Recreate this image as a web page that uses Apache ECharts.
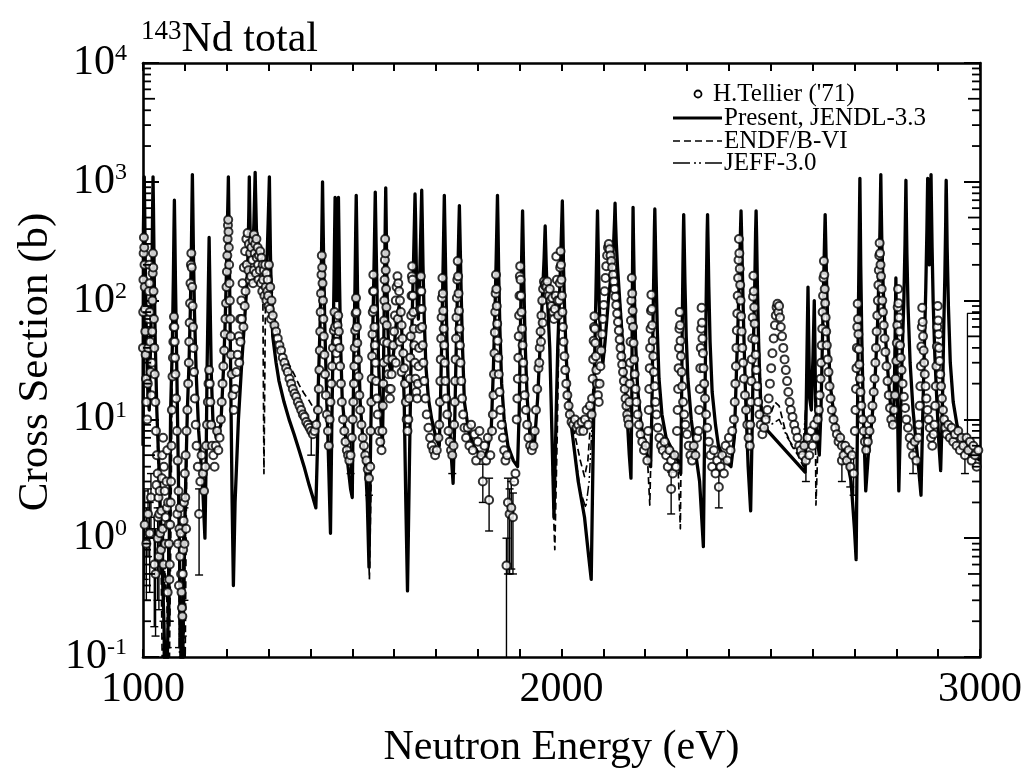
<!DOCTYPE html>
<html><head><meta charset="utf-8">
<script src="https://cdn.jsdelivr.net/npm/echarts/dist/echarts.min.js"></script>
<style>html,body{margin:0;padding:0;background:#fff}#c{width:1025px;height:777px}</style>
</head><body><div id="c"></div>
<script>
const FONT = "'Liberation Serif','Times New Roman',serif";
// axis tick labels
const xLabelValues = [1000, 2000, 3000];
const yExponents = ['-1', '0', '1', '2', '3', '4'];
const minorMantissas = [2, 3, 4, 5, 6, 7, 8, 9];
const minorDecades = [0.1, 1, 10, 100, 1000];

// JENDL-3.3 (Present) curve [E (eV), sigma (b)]
const jendl = [
[1000,6],[1001,400],[1002,700],[1003,1100],[1004,600],[1005.5,200],[1008,50],[1012,15],[1015,12],
[1016,20],[1019,60],[1021.5,200],[1023,600],[1024,1100],[1025,600],[1026.5,200],[1029,50],[1033,12],
[1038,4],[1042,1.5],[1050,0.2],[1055,0.03],[1060,0.2],[1064,2],
[1066,12],[1070,40],[1072.5,150],[1074,400],[1075,700],[1076,400],[1077.5,150],[1080,40],[1083,8],
[1086,1.5],[1089,0.3],[1093,0.03],[1098,0.5],[1102,3],
[1106,12],[1110,30],[1113,80],[1115.5,250],[1117,650],[1118,1150],[1119,650],[1120.5,250],[1123,80],[1127,25],[1133,8],
[1142,3],[1148,1.0],[1151,5],
[1153,25],[1155.5,90],[1157,200],[1158,340],[1159,200],[1160.5,90],[1163,25],[1167,10],
[1175,7],[1186,9],
[1192,25],[1196,60],[1199.5,180],[1202,500],[1203.3,800],[1204,1100],[1205,600],[1206.5,200],[1208.5,50],[1211,8],[1213,2],[1216,0.4],[1220,2],
[1228,10],[1236,30],[1244,80],[1248,130],[1251,250],[1253,600],[1254,1100],[1255,600],[1257,250],[1262,230],[1265,450],[1267,850],[1268,1200],[1269,800],[1271,400],[1275,260],[1282,220],[1290,170],[1296,200],[1299,450],[1301,800],[1302,1100],[1303,600],[1304.5,250],[1307,100],[1310,50],[1318,30],[1325,21],[1337,14],[1349,10],[1361,7.5],[1373,5.5],[1385,4],[1397,2.8],[1406,2.2],[1413,1.8],[1417,6],
[1419,20],[1423,60],[1426,180],[1428,550],[1429,1000],[1430,550],[1432,180],[1434.5,60],[1438,20],[1443,5],[1448,1.1],[1451,8],
[1454,40],[1456.5,150],[1458,400],[1459,740],[1460,400],[1461.5,150],[1463,100],[1464.5,160],[1466,400],[1467,740],[1468,400],[1469.5,150],[1472,45],[1476,15],[1483,8],[1490,4],[1496,2.6],[1500,2.2],[1502,10],
[1504,40],[1506.5,130],[1508.3,400],[1509.5,770],[1510.7,400],[1512.5,130],[1515,40],[1519,14],[1525,7],[1532,4],[1536,2],[1540,0.57],[1543,4],
[1547,30],[1550.5,100],[1553,300],[1554.2,550],[1555,820],[1555.8,550],[1557,300],[1559.5,100],[1563,30],[1567,12],[1572,6],[1574,15],
[1575.5,50],[1577.5,170],[1579,500],[1580,890],[1581,500],[1582.5,170],[1585,60],[1589,28],[1594,25],[1600,40],[1606,70],[1612,90],[1618,60],[1624,15],[1628,2],[1632,0.36],[1636,3],[1640,25],
[1643.5,80],[1646.5,220],[1648.8,500],[1650,790],[1651.2,500],[1653,200],[1655.5,90],[1658,70],
[1660,110],[1662.5,250],[1664.8,550],[1666,850],[1667.2,500],[1669,200],[1672,70],[1676,28],[1682,15],[1690,10],[1700,7],[1708,6],[1711,15],
[1714,50],[1716.5,150],[1718.7,420],[1720,770],[1721.3,420],[1723.5,150],[1726,50],[1730,16],[1735,6],[1741,2.9],[1745,10],
[1749,50],[1752,150],[1754.5,380],[1756,630],[1757.5,350],[1760,130],[1763,45],[1768,14],[1778,8],[1790,6],[1805,5],[1820,5],[1832,8],
[1837,25],[1841,80],[1844,230],[1845.8,470],[1847,770],[1848.2,450],[1850,160],[1853,55],[1857,20],[1863,10],[1872,6],[1885,4.5],[1895,4],[1899,12],
[1901.5,50],[1904,160],[1905.8,360],[1907,570],[1908.2,340],[1910,140],[1913,45],[1918,15],[1925,7],[1935,6],
[1943,15],[1950,50],[1955,120],[1958.5,230],[1960.2,350],[1961,425],[1961.8,330],[1963.5,200],[1966,110],[1972,40],[1977,8],[1982,1.5],[1987,10],
[1991,40],[1995,100],[1998.5,260],[2000.8,480],[2002,690],[2003.2,420],[2005,180],[2008,70],[2012,30],[2018,14],[2025,8],[2040,3],[2055,1.5],[2065,0.7],[2071,0.45],[2075,4],
[2079,30],[2082,100],[2084.5,300],[2086,570],[2087.5,300],[2090,100],[2094,40],[2099,30],
[2104,45],[2112,100],[2118,160],[2122,230],[2125,330],[2127,500],[2128,660],[2129,480],[2131,300],[2134,190],[2140,90],[2148,35],[2156,12],[2162,5],[2166,3.2],[2168,15],
[2169,80],[2170.2,300],[2171,610],[2172,330],[2174,120],[2177,45],[2182,18],[2190,9],[2200,6],[2208,4.5],[2213,4],[2216,12],
[2218.5,60],[2220.8,200],[2222,400],[2223,590],[2224,380],[2226,160],[2229,55],[2233,22],[2240,11],[2250,7],[2265,5.5],[2278,4.5],[2285,3.5],[2287,15],
[2288.5,60],[2290.2,200],[2291.2,370],[2292,530],[2293,340],[2295,140],[2298,50],[2302,22],[2310,10],[2318,6],[2330,3],[2339,0.85],[2342,8],
[2344.5,50],[2346.5,160],[2348,370],[2349,530],[2350,340],[2352,130],[2355,45],[2360,17],[2368,9],[2375,6],[2390,4.5],[2405,4],[2413,7],
[2418,25],[2422,70],[2425.5,200],[2427.8,400],[2429,570],[2430.2,380],[2432.5,160],[2435.5,55],[2440,15],[2446,4],[2452,1.7],[2456,10],
[2459,50],[2462,150],[2463.8,380],[2465,570],[2466.2,350],[2468,140],[2471,45],[2475,16],[2480,9],
[2582,3.6],
[2585,15],[2587.5,60],[2589,130],[2590.5,55],[2593,15],[2597,12],[2601,35],[2603,70],[2604,100],[2605,60],[2607,15],[2611,7],[2616,5],[2620,12],
[2623.5,45],[2626.5,150],[2628.8,350],[2630,530],[2631.2,340],[2633.5,140],[2637,50],[2642,20],[2652,10],[2665,7],[2680,5],[2692,3],[2700,1.2],[2704,0.66],[2707,8],
[2709,60],[2711,250],[2712.2,600],[2713,1070],[2713.8,550],[2715,200],[2717.5,50],[2721,12],[2727,2.5],[2733,5],[2742,10],
[2750,25],[2755,60],[2758.5,160],[2761,400],[2762.2,750],[2763,1150],[2763.8,700],[2765.5,300],[2769,120],[2774,50],[2781,22],[2790,9],[2795,15],
[2797.5,60],[2799,155],[2800.5,55],[2803,12],[2806,2.5],[2810,10],
[2814,35],[2818,100],[2820.8,300],[2822.2,650],[2823,1030],[2823.8,600],[2825.3,250],[2828,90],[2833,30],[2840,12],[2848,6],[2853,4],[2859,2.3],[2863,10],
[2867,40],[2870.5,130],[2873.2,400],[2874.2,700],[2875,1070],[2875.8,600],[2877.5,250],[2879,200],[2880.8,450],[2882.2,800],[2883,1150],[2883.8,700],[2885.5,280],[2888,100],[2892,35],[2897,14],[2902,6],[2906,3.7],[2910,12],
[2913,50],[2916,160],[2918,450],[2918.6,750],[2919.2,1030],[2920,700],[2921.5,280],[2924.5,90],[2929,30],[2936,14],[2945,9],[2955,7],[2970,5.5],[2985,5],[3000,4.5]
];

// ENDF/B-VI: pieces where it departs from JENDL-3.3
const endfSegments = [
[[1035,6],[1043,0.8],[1047,0.04],[1052,0.6],[1057,0.3],[1062,0.04],[1067,1.5],[1070,40]],
[[1083,8],[1087,0.5],[1091,0.04],[1096,0.1],[1100,0.04],[1104,3],[1106,12]],
[[1282,220],[1286,190],[1289,3.5],[1293,140],[1297,160]],
[[1304.5,250],[1307,150],[1312,80],[1325,47],[1337,36],[1349,29],[1361,24],[1373,19.5],[1385,16.5],[1397,14.4],[1410,12],[1418,13],[1421,40]],
[[1536,2],[1541,0.45],[1545,3]],
[[1972,40],[1977,8],[1980,2],[1984,0.8],[1990,8],[1995,100]],
[[2015,20],[2030,8],[2045,4.5],[2055,3.3],[2063,4.5],[2070,10],[2076,20],[2079,30]],
[[2205,5],[2211,1.9],[2216,12],[2218.5,60]],
[[2278,4.5],[2284,1.2],[2288.5,60]],
[[2471,45],[2478,12],[2495,10],[2510,14],[2520,13],[2535,8],[2550,6],[2565,5],[2578,4],[2585,15]],
[[2605,60],[2608,1.9],[2612,5],[2616,5]]
];

// JEFF-3.0: pieces where it departs from JENDL-3.3
const jeffSegments = [
[[1083,8],[1086,0.6],[1088,0.04],[1092,0.3],[1097,0.04],[1101,2],[1106,12]],
[[1304.5,250],[1307,140],[1312,70],[1325,40],[1337,30],[1349,24],[1361,19],[1373,15],[1385,12],[1397,10],[1410,9],[1418,11],[1421,40]],
[[2015,20],[2030,6],[2045,2.5],[2058,1.8],[2066,3],[2075,12],[2079,30]],
[[2471,45],[2480,11],[2500,9],[2520,10],[2540,7],[2560,5.5],[2575,4.5],[2585,15]]
];
const stepLine = [[2970,5.5],[2970,78],[3000,78]];

// H.Tellier ('71) measured points
const tellierA = [
[1000,40],[1000.5,80],[1001,150],[1001.5,250],[1002.2,340],[1003,280],[1003.6,200],[1004.2,130],[1004.8,85],[1005.5,55],[1006.3,35],[1007.2,22],[1008.2,14],
[1004,1.3],[1008,0.9],[1010,10],[1011.5,20],[1012,1.6],[1012.5,40],[1013.3,70],[1014,120],[1014.7,200],[1015.5,140],[1016,1.1],[1016.3,80],[1017,45],[1018,25],[1019,2.2],
[1020,16],[1021,30],[1021.8,55],[1022.5,100],[1023.2,170],[1023.8,250],[1024.5,190],[1025.2,120],[1026,70],[1027,40],[1027,0.6],[1028,24],[1029.5,14],
[1030,0.5],[1031,8],[1032,2.8],[1033,5],[1035,3.5],[1035,1.0],[1036,1.5],[1037,2.2],[1038,0.7],[1039,1.6],[1040,2.5],[1041,1.1],[1043,0.8],[1044,1.7],[1045,3.2],[1046,5],[1047,1.2],[1048,7],[1049,0.6],[1050,4],[1052,2.5],[1053,0.9],[1054,1.5],[1056,3],[1057,1.8],[1058,5.5],[1059,0.35],[1060,2],[1061,1.3],[1062,0.9],[1063,0.45],[1064,0.6],[1065,1.3],[1066,2],[1067,3],[1068,6],
[1069,12],[1070.5,23],[1071.5,33],[1072.5,45],[1073.3,60],[1074,73],[1075,60],[1075.8,45],[1076.6,33],[1077.5,24],[1079,15],[1081,8],[1082,1.6],[1083,4.5],[1084,0.9],[1085,2.5],[1086,0.4],[1087,1.2],[1088,1.8],[1089,0.7],[1090,1.1],[1091,0.5],[1092,0.35],[1093,0.26],[1094,0.22],[1095,0.5],[1096,0.8],[1097,1.4],[1098,2],[1099,0.9],[1100,3.5],[1101,2.2],[1102,5],[1103,1.2],[1104,8],[1106,12],[1108,20],
[1109.5,30],[1110.5,45],[1111.5,65],[1112.5,95],[1113.5,140],[1114.5,200],[1115.5,250],[1116.5,190],[1117.5,130],[1118.5,90],[1119.5,60],[1120.5,40],[1122,25],[1124,15],[1126,9],
[1128,6],[1131,4],[1134,1.6],[1137,3],[1140,5],[1143,3.5],[1146,2.5],
[1149,4],[1151,6],[1153,9],[1155,14],[1156.5,20],[1158,26],[1159.5,20],[1161,14],[1163,9],[1165,6],[1168,5],[1171,4],[1174,6],[1177,8],[1180,5.5],[1183,7],[1186,10],
[1188,14],[1190,20],[1192,28],[1194,38],[1195.5,52],[1197,70],[1198.5,95],[1199.5,130],[1200.5,175],[1201.5,240],[1202.3,330],[1203,430],[1203.6,480],[1204.3,380],[1205,280],[1205.8,200],[1206.6,140],[1207.5,100],[1208.5,70],[1209.5,50],[1210.5,35],[1212,24],[1214,16],
[1217,12],[1220,18],[1223,25],[1226,35],[1229,50],[1230,30],[1232,70],[1233,45],[1235,100],[1236,70],[1238,140],[1240,60],[1241,190],[1243,90],[1244,260],[1245,120],[1247,330],[1248,200],[1250,370],[1252,180],[1253,300],[1255,150],[1256,250],[1258,160],[1259,280],[1261,220],[1262,320],[1263,140],[1265,360],[1265,180],[1267,250],[1268,300],[1270,170],[1271,330],[1272,230],[1274,280],[1275,200],[1276,150],[1277,240],[1279,180],[1280,260],[1282,140],[1283,230],[1285,120],[1286,200],[1287,150],[1289,180],[1290,110],[1292,200],[1293,130],[1295,170],[1295,100],[1297,120],[1298,150],[1299,110],[1300,90],[1301,200],[1303,85],[1304,130],[1306,70],[1307,100],
[1310,75],[1314,62],[1318,55],[1322,48]
];
const tellierB = [
[1326,42],[1330,38],[1334,33],[1338,30],[1342,27],[1346,25],[1350,22],[1354,20],[1358,18],[1362,16.5],[1366,15.5],[1370,14],[1374,13],[1378,12],[1382,11],[1386,10.5],[1390,9.5],[1394,9],[1398,8.5],[1402,8],[1406,7.5],[1410,8],[1414,9],
[1418,12],[1420,18],[1421.5,26],[1422.5,38],[1423.5,55],[1424.5,80],[1425.5,115],[1426.5,165],[1427.3,240],[1428.2,190],[1429,140],[1430,100],[1431,70],[1432,50],[1433.5,35],[1435,24],[1437,16],[1439.5,11],[1442,8],[1444,6],
[1446,10],[1448,14],[1450,20],[1452,28],[1454,40],[1456,56],[1457.5,80],[1459,60],[1460.5,45],[1462,36],[1463.5,45],[1465,62],[1466.5,75],[1468,55],[1469.5,40],[1471,28],[1473,20],[1475,14],[1478,10],[1481,8],[1484,6.5],[1487,5.5],[1490,5],[1493,4.5],[1496,5],
[1499,7],[1501,10],[1502.5,14],[1504,20],[1505,28],[1506,40],[1507,56],[1508,78],[1509,105],[1510,80],[1511,60],[1512,44],[1513.5,32],[1515,23],[1517,16],[1519,12],[1522,9],[1525,7],[1528,6],[1531,5],[1534,4.5],[1537,3.8],[1540,3.2],[1543,4],
[1544,8],[1545.5,14],[1546.5,22],[1547.5,34],[1548.3,52],[1549,80],[1549.7,120],[1550.4,165],[1551.2,120],[1552,85],[1553,60],[1554,42],[1555.5,30],[1557,21],[1559,15],[1561,11],[1564,8],[1567,6.5],[1570,5.5],
[1572,8],[1573,13],[1574,20],[1574.8,30],[1575.5,45],[1576.2,68],[1576.8,100],[1577.4,150],[1578,220],[1578.6,330],[1579.3,250],[1580,180],[1580.8,125],[1581.6,88],[1582.5,62],[1583.5,44],[1584.7,32],[1586,24],[1588,18],[1590,15],
[1592,18],[1594,24],[1596,32],[1598,42],[1600,55],[1602,75],[1604,100],[1604,30],[1606,130],[1608,160],[1609,70],[1610,140],[1612,120],[1613,45],[1614,100],[1616,80],[1618,62],[1618,25],[1620,48],[1622,36],[1624,27],[1626,20],[1628,14],[1630,10],[1632,8],
[1634,10],[1636,15],[1637.5,22],[1638.7,33],[1639.8,50],[1640.8,75],[1641.7,110],[1642.5,160],[1643.2,195],[1644,150],[1645,110],[1646,80],[1647,58],[1648.2,42],[1649.5,30],[1651,22],[1653,17],
[1655,15],[1657,20],[1658.5,28],[1659.8,40],[1661,58],[1662,85],[1663,120],[1664,160],[1665,120],[1666,85],[1667,60],[1668.5,42],[1670,30],[1672,21],[1675,15],[1678,11],[1682,8.5],[1686,7],[1690,6],[1694,5.5],[1698,5],[1702,5.5],[1706,7]
];
const tellierC = [
[1708,9],[1709.5,14],[1710.5,21],[1711.5,32],[1712.5,48],[1713.5,72],[1714.5,105],[1715.5,155],[1716.5,115],[1717.5,82],[1718.5,58],[1719.7,42],[1721,30],[1722.5,21],[1724.5,15],[1727,11],[1730,8],[1733,6.5],[1736,5.5],[1739,5],
[1742,6],[1743.5,9],[1745,14],[1746,21],[1747,32],[1748,48],[1749,72],[1750,105],[1751,150],[1752,215],[1753,160],[1754,115],[1755,82],[1756,58],[1757.3,42],[1758.7,30],[1760.5,21],[1762.5,15],[1765,11],[1768,8.5],
[1772,7],[1776,8.5],[1780,6],[1784,9],[1788,5.5],[1792,7.5],[1796,4.5],[1800,6.5],[1804,8],[1808,5],[1812,3],[1816,6],[1820,4.5],[1824,7],[1827,2.1],[1830,5],[1834,8],
[1836,11],[1837.5,16],[1838.7,24],[1839.8,36],[1840.8,54],[1841.7,80],[1842.6,115],[1843.5,165],[1844.4,125],[1845.3,90],[1846.3,64],[1847.4,46],[1848.7,33],[1850.2,24],[1852,17],[1854,12],[1857,9],[1860,7],
[1863,5.5],[1866,4.5],[1868.5,0.59],[1870,5],[1872,2],[1876,1.6],[1880,1.8],[1884,1.5],[1887,3],[1890,3.5],
[1893,10],[1894.5,15],[1895.7,22],[1896.8,33],[1897.8,50],[1898.7,75],[1899.6,110],[1900.5,160],[1901.3,195],[1902.2,150],[1903.2,110],[1904.3,80],[1905.5,58],[1907,42],[1908.5,30],[1910,22],[1912,16],[1915,12],[1918,9],[1921,7],[1925,6],[1929,5.5],[1933,6],
[1936,8],[1939,12],[1942,18],[1945,27],[1947,30],[1948,40],[1950,55],[1951,45],[1952,75],[1954,100],[1955,65],[1956,125],[1958,145],[1960,135],[1962,140],[1964,130],[1966,145],[1968,120],[1970,110],[1972,125],[1974,100],[1976,90],[1978,105],[1980,80],[1982,70],[1984,85],[1986,110],[1987.5,235],[1989,150],[1990.5,100],[1992,75],
[1994.5,100],[1995.7,140],[1996.8,190],[1997.8,260],[1998.8,200],[1999.8,150],[2001,110],[2002.2,80],[2003.5,60],[2005,45],[2007,34],[2009,26],[2011.5,20],[2014,16],[2017,13],[2020,11],[2024,9.5],[2028,9],[2032,10],[2036,8.5],[2040,9],[2044,8],[2048,9.5],[2052,8],[2056,10],[2060,12],[2064,9],[2068,13],[2072,11],
[2073,15],[2074.5,22],[2075.7,32],[2076.8,46],[2077.8,60],[2078.7,74],[2079.7,58],[2080.8,44],[2082,34],[2083.3,26],[2085,20],[2087,16],
[2089,14],[2091,20],[2093,28],[2095,38],[2097,52],[2099,70]
];
const tellierD = [
[2101,92],[2103,120],[2105,155],[2107,195],[2109,240],[2111,280],[2113,300],[2115,270],[2117,240],[2119,215],[2121,190],[2123,165],[2125,145],[2127,125],[2129,108],[2131,92],[2133,78],[2135,66],[2137,56],[2139,47],[2141,40],[2143,34],[2145,29],[2147,25],[2149,21],[2151,18],[2153,15],[2155,13],[2157,11],[2159,10],[2161,9],
[2162,14],[2163,20],[2164,30],[2165,45],[2166,68],[2167,100],[2168,155],[2169,115],[2170,82],[2171,60],[2172.2,44],[2173.5,32],[2175,24],[2177,18],[2179,14],[2182,11],[2185,9],[2189,7.5],[2193,6.5],[2197,5.5],[2201,6],[2205,4.5],
[2207,8],[2208.5,12],[2209.7,18],[2210.8,27],[2211.8,40],[2212.8,58],[2213.8,82],[2214.8,112],[2215.8,85],[2216.8,62],[2218,46],[2219.3,34],[2220.8,25],[2222.5,19],[2224.5,14],[2227,11],[2230,8.5],[2234,7],[2238,6],[2242,5.5],[2246,6.5],[2250,5],[2254,4],[2258,5.5],[2262,4.5],[2262,2.6],[2266,3.5],[2270,5],[2274,4],
[2276,8],[2277.5,12],[2278.7,18],[2279.8,27],[2280.8,40],[2281.7,58],[2282.6,80],[2283.5,62],[2284.5,46],[2285.6,34],[2287,25],[2288.5,19],[2290.5,14],[2293,11],[2296,9],[2300,7.5],[2304,6],[2308,5],[2312,4.5],[2316,6],[2320,5],[2324,7],
[2327,8],[2329,12],[2330.5,18],[2331.7,27],[2332.8,40],[2333.8,58],[2334.8,87],[2335.8,65],[2336.8,48],[2338,36],[2339.3,27],[2341,20],[2343,15],[2345.5,11],[2348,8.5],[2352,6.5],[2356,5],[2360,4],[2364,5.5],[2368,3.5],[2372,4.5],[2376,2.7],[2380,4],[2384,5],[2388,3.5],[2392,6],[2396,4.5],[2400,7],[2404,5.5],[2408,8],[2412,10],
[2414,14],[2415.5,20],[2416.8,28],[2418,40],[2419,56],[2420,78],[2421,110],[2422,155],[2423,220],[2424,330],[2425,250],[2426,185],[2427,135],[2428,100],[2429.2,74],[2430.5,55],[2432,40],[2434,30],[2436,22],[2438.5,16],[2441,12],[2444,9],[2447,7],[2450,6],
[2451,9],[2452.5,14],[2453.7,21],[2454.8,32],[2455.8,48],[2456.8,72],[2457.7,108],[2458.6,162],[2459.5,120],[2460.5,88],[2461.5,64],[2462.7,47],[2464,35],[2465.5,26],[2467.5,19],[2470,14],[2473,11],[2476,9],[2480,7.5],[2484,8.5],[2488,10],[2492,12],[2495,15],[2498,20]
];
const tellierE = [
[2501,27],[2504,36],[2507,48],[2510,62],[2512,75],[2514,88],[2516,94],[2518,80],[2520,90],[2522,72],[2524,60],[2527,50],[2530,40],[2533,32],[2536,26],[2539,21],[2542,17],[2545,14],[2548,12],[2552,10.5],[2556,9],[2560,8],[2564,7],[2568,6],[2572,5.5],[2576,5],[2580,6],[2584,4.5],[2588,7],[2592,5],[2596,8],[2600,6],[2604,9],[2608,7],[2612,10],
[2615,12],[2617,16],[2619,22],[2620.5,30],[2621.8,42],[2623,58],[2624,80],[2625,110],[2626,155],[2627,215],[2628,165],[2629,125],[2630,95],[2631.2,72],[2632.5,55],[2634,42],[2636,32],[2638,25],[2640.5,19],[2643,15],[2646,12],[2650,10],[2654,8.5],[2658,7.5],[2662,6.5],[2666,7],[2670,6],[2670,4.5],[2674,5],[2678,6],[2682,4.5],[2686,5.5],[2690,4],[2694,5],[2698,3.5],
[2701,8],[2702.5,12],[2703.7,18],[2704.8,27],[2705.8,40],[2706.8,60],[2707.7,94],[2708.6,70],[2709.5,52],[2710.5,39],[2711.7,29],[2713,22],[2714.5,17],[2716.5,13],[2719,10],[2722,8],[2725,6.5],[2728,5.5],[2732,6.5],[2736,8],[2740,10],[2743,13],[2746,17],
[2748,22],[2750,30],[2751.5,40],[2753,55],[2754.5,75],[2756,100],[2757.2,135],[2758.3,180],[2759.3,240],[2760.2,305],[2761.2,250],[2762.3,200],[2763.5,160],[2765,125],[2766.5,100],[2768,80],[2770,62],[2772,48],[2774,37],[2776.5,28],[2779,21],[2782,16],[2785,12.5],[2788,10],
[2792,9],[2795,12],[2797,16],[2798.7,22],[2800,31],[2801.2,44],[2802.3,62],[2803.3,88],[2804.2,125],[2805.2,95],[2806.3,72],[2807.5,55],[2809,42],[2810.5,33],[2812.5,26],[2815,20],[2818,15.5],[2821,12.5],[2824,10],[2828,8.5],[2832,7],[2836,6],[2840,5],[2844,6.5],[2848,4.5],[2852,7],
[2854,9],[2856,13],[2857.5,19],[2858.8,28],[2860,41],[2861,60],[2862,87],[2863,66],[2864,50],[2865.2,38],[2866.5,30],[2868,24],[2870,19],[2872,15],[2874.5,12],[2877,10],[2880,8.5],[2883,7],[2886,6],[2889,7.5],
[2891,9],[2893,13],[2894.5,19],[2895.8,28],[2897,41],[2898,60],[2899,90],[2900,68],[2901,52],[2902.2,40],[2903.5,31],[2905,24],[2907,19],[2909,15],[2911.5,12],[2914,10],[2917,8.5],[2920,7.5],[2924,9],[2928,7],[2932,8.5],[2936,6.5],[2940,7.5],[2944,6],[2948,8],[2952,5.5],[2956,7],[2960,6],[2964,5],[2968,7],[2972,5.5],[2976,6.5],[2980,4.5],[2984,6],[2988,5],[2992,4],[2996,5.5]
];
// error bars [E, low, high]
const errBars = [
[1004,0.45,2.5],[1008,0.3,1.8],[1012,0.7,2.6],[1016,0.35,2.0],[1019,1.2,3.5],[1027,0.18,1.5],[1030,0.15,1.2],[1035,0.3,1.8],[1038,0.25,1.5],[1041,0.5,1.8],[1049,0.2,1.3],[1059,0.12,0.9],[1063,0.2,0.9],[1064,0.2,1.3],[1086,0.12,0.9],[1093,0.12,0.5],[1095,0.15,1.1],[1099,0.3,1.8],[1134,0.49,2.6],[1402,5,9.5],[1496,3.5,6.5],[1540,2.3,4.3],[1739,3.5,6.5],[1812,2,4.2],[1827,1.15,3.2],[1868.5,0.05,1.0],[1872,0.5,3.2],[1876,0.5,2.6],[1880,0.55,3],[1884,0.5,2.4],[2262,1.6,3.6],[2376,1.8,3.8],[2584,3,6.5],[2670,3,6.5],[2690,2.7,5.7],[2698,2.3,5],[2840,3.5,6.8],[2964,3.5,6.8]
];

const tellier = tellierA.concat(tellierB, tellierC, tellierD, tellierE);
const minorTicks = [];
minorDecades.forEach(d => minorMantissas.forEach(m => minorTicks.push([1000, m * d, m])));

const chart = echarts.init(document.getElementById('c'), null, {renderer: 'canvas'});
const black = '#000';
function lineSeries(data, style) {
  return {type: 'line', data: data, symbol: 'none', showSymbol: false, clip: true, animation: false,
    xAxisIndex: 0, yAxisIndex: 0, lineStyle: Object.assign({color: black, cap: 'butt', join: 'round'}, style), z: 3};
}
const ENDF_STYLE = {width: 1.7, type: [7, 4]};
const JEFF_STYLE = {width: 1.5, type: [10, 3, 2, 3, 2, 3]};

const series = [lineSeries(jendl, {width: 3.3})];
endfSegments.forEach(s => series.push(lineSeries(s, ENDF_STYLE)));
jeffSegments.forEach(s => series.push(lineSeries(s, JEFF_STYLE)));
series.push(lineSeries(stepLine, {width: 1.3}));
series.push({
  type: 'custom', clip: true, animation: false, z: 4, data: errBars,
  encode: {x: 0, y: [1, 2]},
  renderItem: function (params, api) {
    const p1 = api.coord([api.value(0), api.value(1)]);
    const p2 = api.coord([api.value(0), api.value(2)]);
    const st = {stroke: black, lineWidth: 1.4};
    return {type: 'group', children: [
      {type: 'line', shape: {x1: p1[0], y1: p1[1], x2: p2[0], y2: p2[1]}, style: st},
      {type: 'line', shape: {x1: p1[0] - 4, y1: p1[1], x2: p1[0] + 4, y2: p1[1]}, style: st},
      {type: 'line', shape: {x1: p2[0] - 4, y1: p2[1], x2: p2[0] + 4, y2: p2[1]}, style: st}
    ]};
  }
});
series.push({
  type: 'scatter', data: tellier, symbol: 'circle', symbolSize: 8, clip: true, animation: false, z: 5,
  itemStyle: {color: '#fff', borderColor: black, borderWidth: 2}
});
series.push({
  type: 'custom', animation: false, z: 6, data: minorTicks, encode: {x: 0, y: 1},
  renderItem: function (params, api) {
    const v = api.value(1), m = api.value(2);
    const pl = api.coord([1000, v]), pr = api.coord([3000, v]);
    const len = (m === 5) ? 12 : 8;
    const st = {stroke: black, lineWidth: 1.8};
    return {type: 'group', children: [
      {type: 'line', shape: {x1: pl[0], y1: pl[1], x2: pl[0] + len, y2: pl[1]}, style: st},
      {type: 'line', shape: {x1: pr[0] - len, y1: pr[1], x2: pr[0], y2: pr[1]}, style: st}
    ]};
  }
});

const richY = {
  b: {fontFamily: FONT, fontSize: 42, color: black, lineHeight: 42},
  s: {fontFamily: FONT, fontSize: 24, color: black, lineHeight: 24, verticalAlign: 'top'}
};
const axisCommonX = {
  type: 'value', min: 1000, max: 3000, interval: 100,
  axisLine: {show: true, lineStyle: {color: black, width: 2.6}},
  axisTick: {show: true, inside: true, length: 8, lineStyle: {color: black, width: 2}},
  splitLine: {show: false}
};
const axisCommonY = {
  type: 'log', logBase: 10, min: 0.1, max: 10000,
  axisLine: {show: true, lineStyle: {color: black, width: 2.6}},
  axisTick: {show: true, inside: true, length: 16, lineStyle: {color: black, width: 2}},
  splitLine: {show: false}, minorTick: {show: false}
};

chart.setOption({
  backgroundColor: '#fff',
  animation: false,
  grid: {left: 143, right: 45, top: 63, bottom: 120, containLabel: false},
  xAxis: [
    Object.assign({}, axisCommonX, {
      position: 'bottom',
      name: 'Neutron Energy (eV)', nameLocation: 'middle', nameGap: 70,
      nameTextStyle: {fontFamily: FONT, fontSize: 42, color: black},
      axisLabel: {show: true, margin: 12, fontFamily: FONT, fontSize: 42, color: black,
        formatter: v => xLabelValues.indexOf(v) >= 0 ? String(v) : ''}
    }),
    Object.assign({}, axisCommonX, {position: 'top', axisLabel: {show: false}})
  ],
  yAxis: [
    Object.assign({}, axisCommonY, {
      position: 'left',
      axisLabel: {show: true, margin: 16, color: black,
        formatter: v => '{b|10}{s|' + yExponents[Math.round(Math.log10(v)) + 1] + '}', rich: richY}
    }),
    Object.assign({}, axisCommonY, {position: 'right', axisLabel: {show: false}})
  ],
  series: series,
  graphic: [
    {type: 'text', x: 36, y: 362, rotation: Math.PI / 2, style: {text: 'Cross Section (b)', fontFamily: FONT, fontSize: 43, fill: black, align: 'center', verticalAlign: 'middle'}},
    {type: 'text', left: 141, top: 18, style: {text: '{s|143}{b|Nd total}', rich: {
      s: {fontFamily: FONT, fontSize: 27, fill: black, lineHeight: 27, verticalAlign: 'top'},
      b: {fontFamily: FONT, fontSize: 42, fill: black, lineHeight: 44}}}},
    {type: 'circle', shape: {cx: 698, cy: 94, r: 3.5}, style: {fill: '#fff', stroke: black, lineWidth: 1.8}, z: 10},
    {type: 'text', x: 713, y: 94, style: {text: "H.Tellier ('71)", fontFamily: FONT, fontSize: 25, fill: black, verticalAlign: 'middle'}, z: 10},
    {type: 'line', shape: {x1: 673, y1: 118, x2: 722, y2: 118}, style: {stroke: black, lineWidth: 3}, z: 10},
    {type: 'text', x: 724, y: 118, style: {text: 'Present, JENDL-3.3', fontFamily: FONT, fontSize: 25, fill: black, verticalAlign: 'middle'}, z: 10},
    {type: 'line', shape: {x1: 673, y1: 141, x2: 722, y2: 141}, style: {stroke: black, lineWidth: 1.7, lineDash: [7, 4]}, z: 10},
    {type: 'text', x: 724, y: 141, style: {text: 'ENDF/B-VI', fontFamily: FONT, fontSize: 25, fill: black, verticalAlign: 'middle'}, z: 10},
    {type: 'line', shape: {x1: 673, y1: 163, x2: 722, y2: 163}, style: {stroke: black, lineWidth: 1.7, lineDash: [17, 4, 2, 3, 2, 4]}, z: 10},
    {type: 'text', x: 724, y: 163, style: {text: 'JEFF-3.0', fontFamily: FONT, fontSize: 25, fill: black, verticalAlign: 'middle'}, z: 10}
  ]
});
</script>
</body></html>
